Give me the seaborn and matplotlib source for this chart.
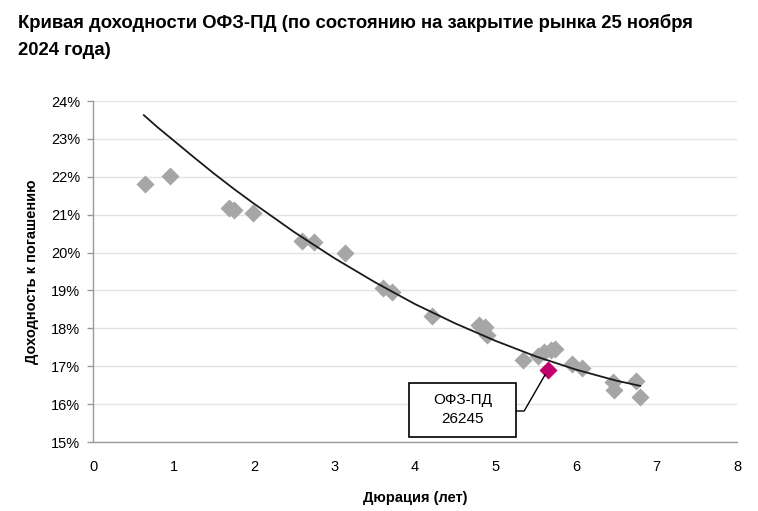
import matplotlib
matplotlib.use("Agg")
import matplotlib.pyplot as plt
import seaborn as sns
import pandas as pd
from matplotlib.patches import Rectangle
from matplotlib.ticker import FuncFormatter, MultipleLocator

# ---- data ----
duration = [0.65, 0.96, 1.69, 1.75, 1.99, 2.60, 2.75, 3.13, 3.60, 3.71, 4.21,
            4.80, 4.87, 4.90, 5.34, 5.53, 5.60, 5.69, 5.74, 5.95, 6.07,
            6.46, 6.47, 6.75, 6.80]
yield_pct = [21.81, 22.02, 21.18, 21.12, 21.04, 20.31, 20.28, 19.99, 19.07, 18.96, 18.33,
             18.09, 18.04, 17.83, 17.17, 17.27, 17.38, 17.43, 17.46, 17.06, 16.96,
             16.59, 16.38, 16.61, 16.19]

hl_duration = [5.65]
hl_yield = [16.90]
hl_label = "ОФЗ-ПД\n26245"

curve_x = [0.63, 0.8, 1.0, 1.25, 1.5, 1.75, 2.0, 2.5, 3.0, 3.5, 4.0, 4.5, 5.0, 5.5, 6.0, 6.5, 6.8]
curve_y = [23.63, 23.31, 22.96, 22.52, 22.09, 21.68, 21.29, 20.54, 19.85, 19.22, 18.64,
           18.13, 17.67, 17.26, 16.91, 16.62, 16.48]

title = "Кривая доходности ОФЗ-ПД (по состоянию на закрытие рынка 25 ноября\n2024 года)"
xlabel = "Дюрация (лет)"
ylabel = "Доходность к погашению"

# ---- style ----
sns.set_style("white")
plt.rcParams['font.family'] = ['Liberation Sans Narrow', 'Liberation Sans', 'DejaVu Sans']
plt.rcParams['text.color'] = 'black'
plt.rcParams['axes.labelcolor'] = 'black'
plt.rcParams['xtick.color'] = 'black'
plt.rcParams['ytick.color'] = 'black'

fig = plt.figure(figsize=(7.58, 5.11), dpi=100)
ax = fig.add_axes([93/758, 1-442/511, 644/758, 341/511])

df = pd.DataFrame({"x": duration, "y": yield_pct})
cdf = pd.DataFrame({"x": curve_x, "y": curve_y})
hdf = pd.DataFrame({"x": hl_duration, "y": hl_yield})

sns.scatterplot(data=df, x="x", y="y", ax=ax, marker="D", s=85,
                color="#A6A6A6", edgecolor="#A6A6A6", linewidth=0, zorder=3)
sns.lineplot(data=cdf, x="x", y="y", ax=ax, color="#1a1a1a", linewidth=1.3,
             sort=True, zorder=4)
sns.scatterplot(data=hdf, x="x", y="y", ax=ax, marker="D", s=85,
                color="#C0006B", edgecolor="#C0006B", linewidth=0, zorder=5)

ax.set_xlim(0, 8)
ax.set_ylim(15, 24)
ax.xaxis.set_major_locator(MultipleLocator(1))
ax.yaxis.set_major_locator(MultipleLocator(1))
ax.yaxis.set_major_formatter(FuncFormatter(lambda v, p: f"{v:.0f}%"))

ax.grid(axis="y", color="#E3E3E3", linewidth=1.0)
ax.grid(axis="x", visible=False)
ax.set_axisbelow(True)

for s in ["top", "right"]:
    ax.spines[s].set_visible(False)
for s in ["left", "bottom"]:
    ax.spines[s].set_color("#9A9A9A")
    ax.spines[s].set_linewidth(1.0)

ax.tick_params(axis="y", which="major", length=4, color="#9A9A9A", width=1,
               labelsize=10.5, pad=5, left=True, labelcolor="black")
ax.tick_params(axis="x", which="major", length=0, labelsize=10.5, pad=13,
               labelcolor="black")

ax.set_xlabel(xlabel, fontsize=10.5, fontweight="bold", labelpad=12)
ax.set_ylabel(ylabel, fontsize=10.5, fontweight="bold", labelpad=9)

fig.text(18/758, 1-14/511, title, ha="left", va="top", fontsize=13.3,
         fontweight="bold", linespacing=1.75)

# ---- annotation box ----
box = Rectangle((0.4907, 0.0147), 0.1661, 0.1583, transform=ax.transAxes,
                facecolor="white", edgecolor="black", linewidth=1.2, zorder=6)
ax.add_patch(box)
ax.text(0.5738, 0.094, hl_label, transform=ax.transAxes, ha="center", va="center",
        fontsize=11, linespacing=1.45, zorder=7)
ax.annotate("", xy=(hl_duration[0], hl_yield[0]), xycoords="data",
            xytext=(0.6568, 0.0909), textcoords="axes fraction",
            arrowprops=dict(arrowstyle="-", color="black", lw=1.0,
                            connectionstyle="angle,angleA=0,angleB=60,rad=0",
                            shrinkA=0, shrinkB=4), zorder=6)

fig.savefig("out.png", dpi=100)
